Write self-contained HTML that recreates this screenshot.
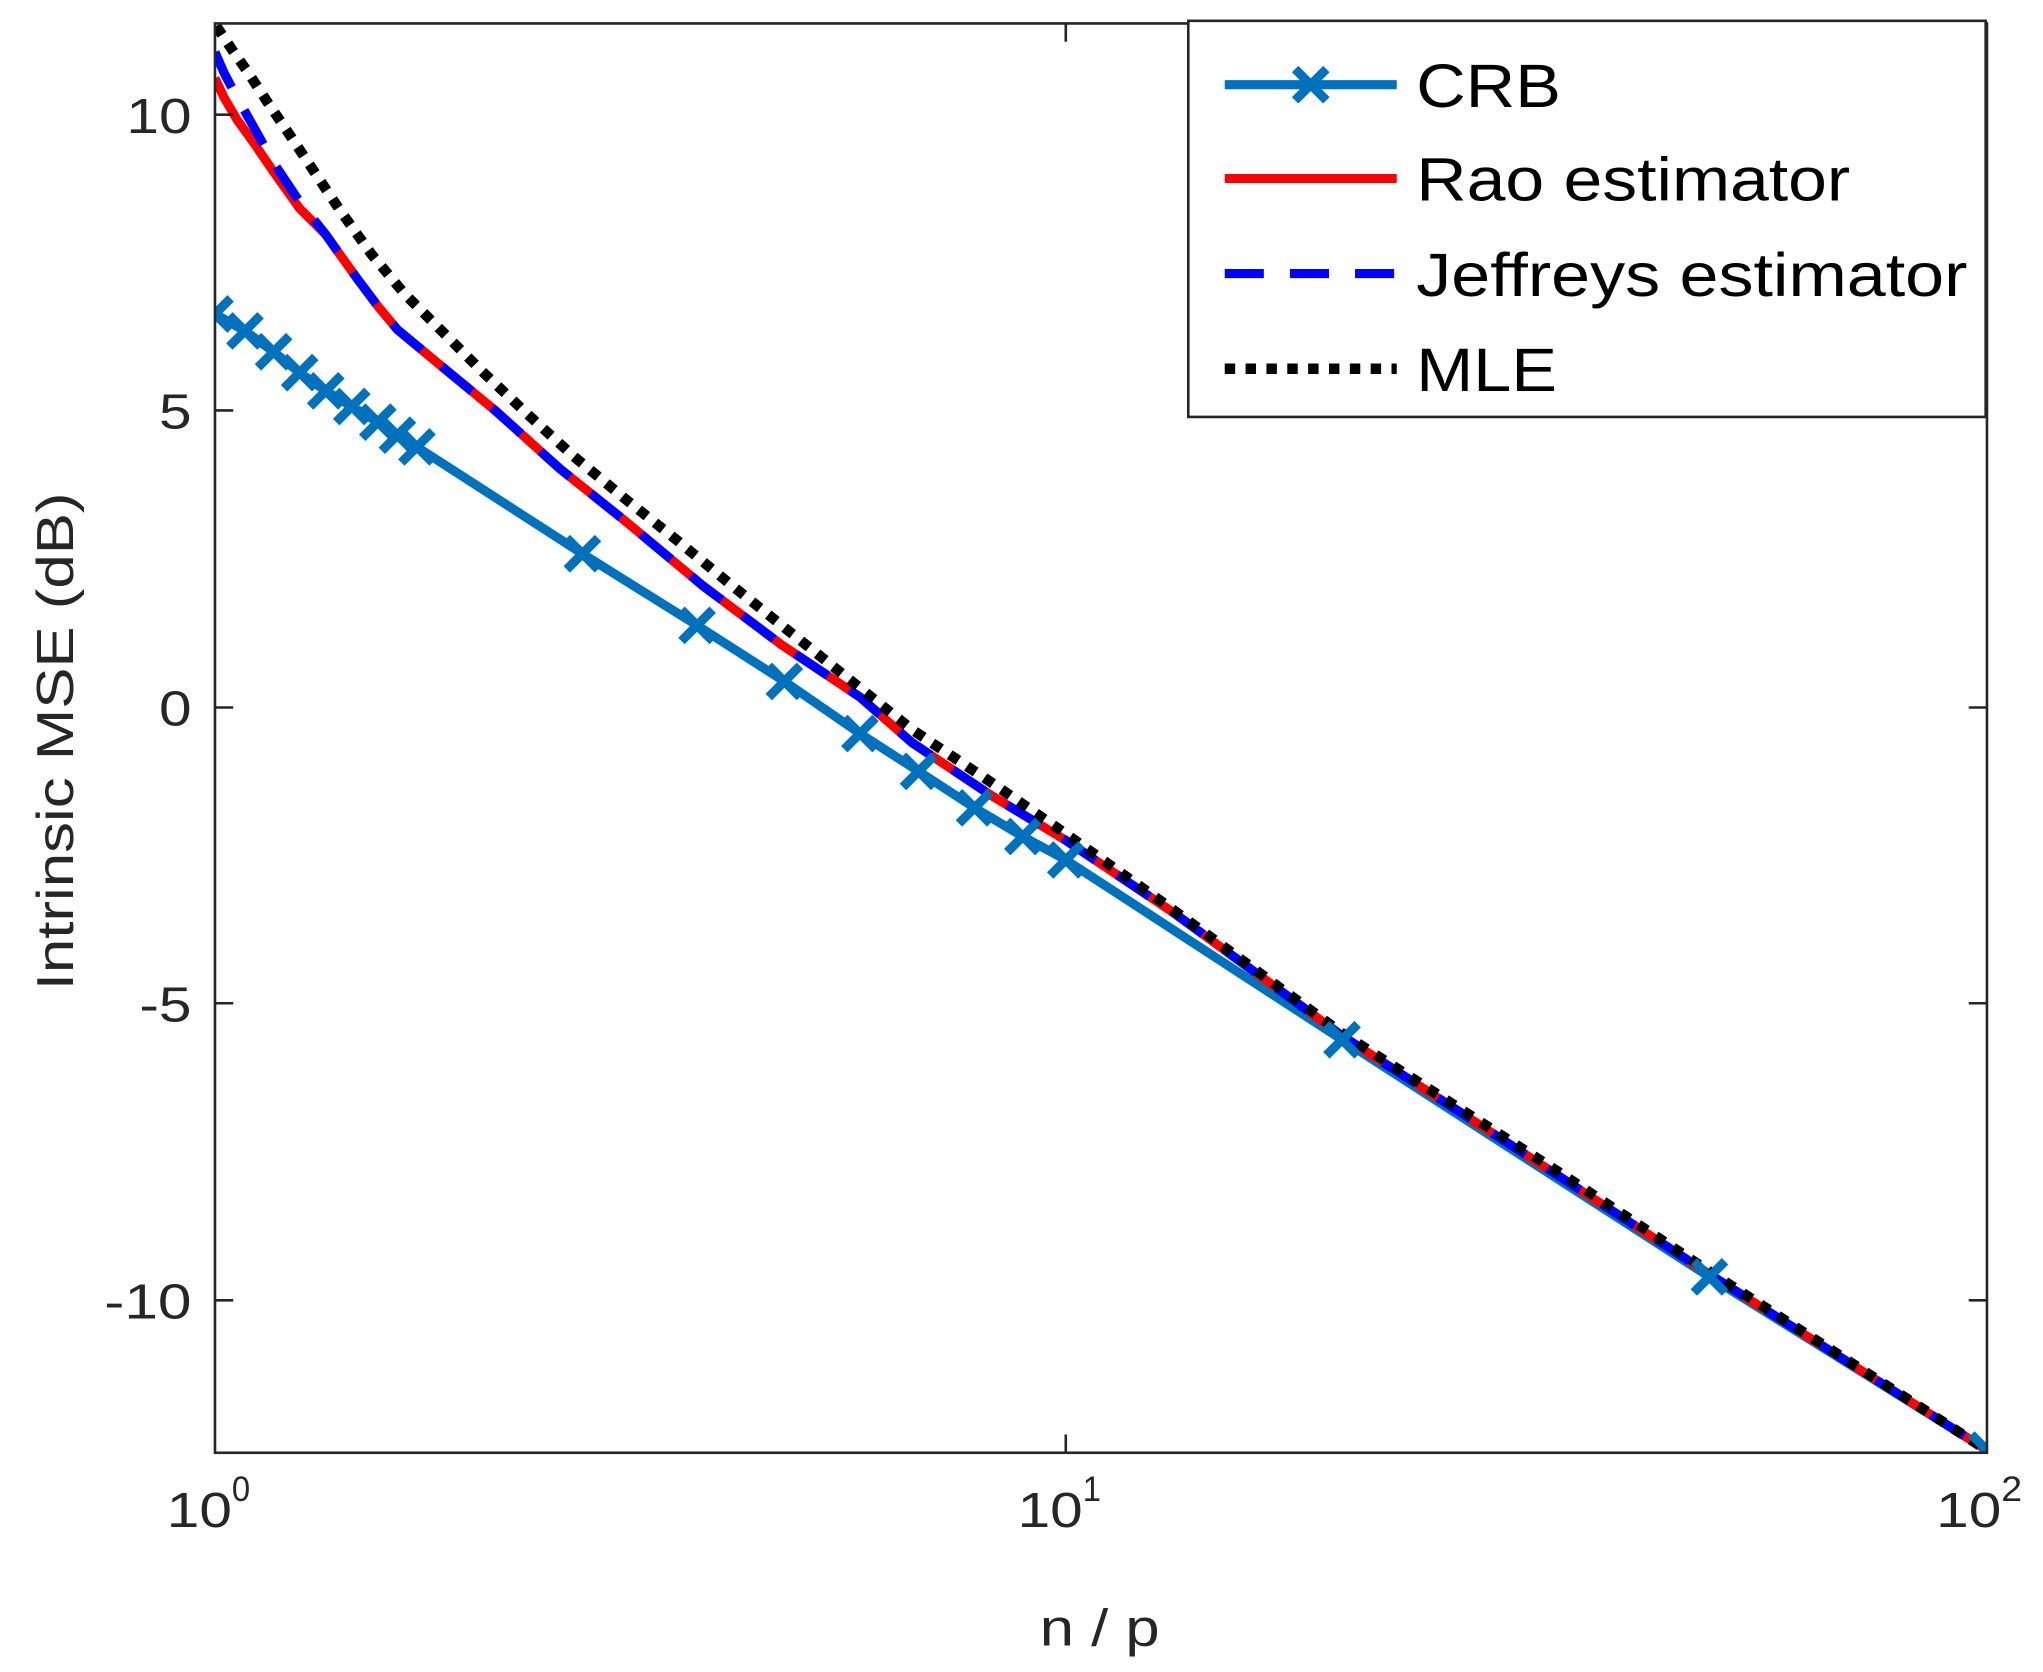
<!DOCTYPE html>
<html><head><meta charset="utf-8"><style>
html,body{margin:0;padding:0;background:#fff;}
svg{display:block;font-family:"Liberation Sans",sans-serif;}
</style></head><body>
<svg width="2043" height="1672" viewBox="0 0 2043 1672" xmlns="http://www.w3.org/2000/svg">
<g transform="scale(1.30293)">
<defs>
<clipPath id="c"><rect x="165" y="18" width="1360" height="1097"/></clipPath>
</defs>
<g clip-path="url(#c)" fill="none" stroke-linejoin="round" stroke-linecap="butt">
<polyline stroke="#0072BD" stroke-width="7" points="165,241 188,254 210,270 230,286 250,300 270,312 290,324 305,334 320,343 447,425 535,480 602,523 660,563 705,592 748,620 785,642 818,660 1030,798 1312,980 1525,1113"/>
<polyline stroke="#ff0000" stroke-width="7" points="165,60 172,75 182,92 195,110 210,132 230,160 250,180 262,197 275,215 290,235 305,253 340,282 380,315 430,360 480,400 540,450 600,495 660,535 700,570 760,610 818,645 900,700 1030,795 1200,905 1312,978 1525,1113"/>
<polyline stroke="#0000ff" stroke-width="7" stroke-dasharray="30,20" points="165,40 172,56 182,75 195,98 210,125 230,155 250,180 262,197 275,215 290,235 305,253 340,282 380,315 430,360 480,400 540,450 600,495 660,535 700,570 760,610 818,645 900,700 1030,795 1200,905 1312,978 1525,1113"/>
<polyline stroke="#000" stroke-width="8" stroke-dasharray="8,8" points="166,20 178,38 190,55 205,78 220,100 240,130 260,160 285,195 310,225 340,255 370,285 405,318 440,350 480,383 520,415 560,448 600,480 650,520 700,560 760,600 818,640 900,698 1030,793 1200,902 1312,976 1525,1113"/>
<g stroke="#0072BD" stroke-width="7">
<path d="M153,229l24,24m0,-24l-24,24 M176,242l24,24m0,-24l-24,24 M198,258l24,24m0,-24l-24,24 M218,274l24,24m0,-24l-24,24 M238,288l24,24m0,-24l-24,24 M258,300l24,24m0,-24l-24,24 M278,312l24,24m0,-24l-24,24 M293,322l24,24m0,-24l-24,24 M308,331l24,24m0,-24l-24,24 M435,413l24,24m0,-24l-24,24 M523,468l24,24m0,-24l-24,24 M590,511l24,24m0,-24l-24,24 M648,551l24,24m0,-24l-24,24 M693,580l24,24m0,-24l-24,24 M736,608l24,24m0,-24l-24,24 M773,630l24,24m0,-24l-24,24 M806,648l24,24m0,-24l-24,24 M1018,786l24,24m0,-24l-24,24 M1300,968l24,24m0,-24l-24,24 M1513,1101l24,24m0,-24l-24,24"/>
</g>
</g>
<g stroke="#262626" stroke-width="2" fill="none">
<rect x="165" y="18" width="1360" height="1097"/>
<path d="M818,18v14 M818,1115v-14 M165,88h14 M165,315h14 M165,543h14 M165,770h14 M165,998h14 M1525,88h-14 M1525,315h-14 M1525,543h-14 M1525,770h-14 M1525,998h-14"/>
</g>
<g fill="#262626" font-size="38" lengthAdjust="spacingAndGlyphs">
<text x="97" y="102" textLength="50" lengthAdjust="spacingAndGlyphs">10</text>
<text x="122" y="329" textLength="25" lengthAdjust="spacingAndGlyphs">5</text>
<text x="122" y="557" textLength="25" lengthAdjust="spacingAndGlyphs">0</text>
<text x="107" y="784" textLength="40" lengthAdjust="spacingAndGlyphs">-5</text>
<text x="80" y="1012" textLength="67" lengthAdjust="spacingAndGlyphs">-10</text>
</g>
<g fill="#262626" font-size="38">
<text x="128" y="1172" textLength="50" lengthAdjust="spacingAndGlyphs">10</text><text x="178" y="1152" font-size="27" textLength="14" lengthAdjust="spacingAndGlyphs">0</text>
<text x="781" y="1172" textLength="50" lengthAdjust="spacingAndGlyphs">10</text><text x="831" y="1152" font-size="27" textLength="14" lengthAdjust="spacingAndGlyphs">1</text>
<text x="1486" y="1172" textLength="50" lengthAdjust="spacingAndGlyphs">10</text><text x="1536" y="1152" font-size="27" textLength="16" lengthAdjust="spacingAndGlyphs">2</text>
<text x="798" y="1263" font-size="40" textLength="92" lengthAdjust="spacingAndGlyphs">n / p</text>
<text transform="translate(56,760) rotate(-90)" font-size="40" textLength="382" lengthAdjust="spacingAndGlyphs">Intrinsic MSE (dB)</text>
</g>
<rect x="912" y="16" width="612" height="304" fill="#fff" stroke="#262626" stroke-width="2"/>
<g fill="none">
<path d="M940,65h132" stroke="#0072BD" stroke-width="7"/>
<path d="M994,53l24,24m0,-24l-24,24" stroke="#0072BD" stroke-width="7"/>
<path d="M940,137h132" stroke="#ff0000" stroke-width="7"/>
<path d="M940,210h132" stroke="#0000ff" stroke-width="7" stroke-dasharray="30,20"/>
<path d="M940,283h132" stroke="#000" stroke-width="8" stroke-dasharray="8,8"/>
</g>
<g fill="#000" font-size="47">
<text x="1087" y="82" textLength="111" lengthAdjust="spacingAndGlyphs">CRB</text>
<text x="1087" y="154" textLength="333" lengthAdjust="spacingAndGlyphs">Rao estimator</text>
<text x="1087" y="227" textLength="423" lengthAdjust="spacingAndGlyphs">Jeffreys estimator</text>
<text x="1087" y="300" textLength="108" lengthAdjust="spacingAndGlyphs">MLE</text>
</g>
</g>
</svg>
</body></html>
